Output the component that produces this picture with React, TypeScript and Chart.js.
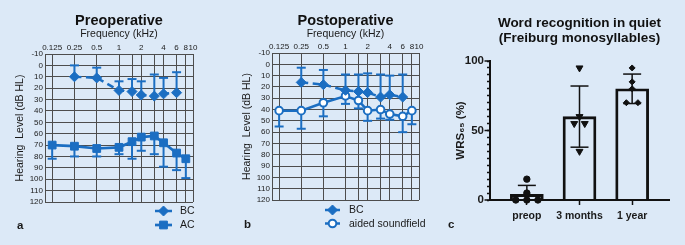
import React, { useEffect, useRef } from 'react';
import { Chart, registerables } from 'chart.js';

Chart.register(...registerables);

const FONT = "'Liberation Sans', Arial, Helvetica, sans-serif";
Chart.defaults.font.family = FONT;
Chart.defaults.color = '#1a1a1a';

const BLUE = '#1b6ec2';
const BG = '#dce9f7';
const GRID = '#4d4d4d';
const INK = '#111111';

// ---------- Audiogram data ----------
const frequencies = [0.125, 0.25, 0.5, 1, 1.5, 2, 3, 4, 6, 8];
const freqGridLines = [0.125, 0.25, 0.5, 1, 1.5, 2, 3, 4, 6, 8, 10];
const freqTickLabels = ['0.125', '0.25', '0.5', '1', '', '2', '', '4', '6', '8', '10'];

const preopBC = [null, 10, 11, 22, 23, 26, 27, 25, 24, null];
const preopBCErrEnd = [null, 0, 2, 14, 12, 14, 8, 11, 6, null];
const preopAC = [70, 71, 73, 72, 67, 63, 62, 68, 77, 82];
const preopACErrEnd = [82, 80, 80, 78, 82, 75, 78, 89, 92, 99];

const postopBC = [null, 16, 18, 23, 24, 25, 29, 27, 29, null];
const postopBCErrEnd = [null, 3, 5, 9, 9, 8, 9, 10, 9, null];
const postopAided = [41, 41, 34, 28, 32, 41, 40, 44, 46, 41];
const postopAidedErrEnd = [55, 57, 46, 35, 39, 50, 48, 49, 60, 53];

// ---------- Word recognition data ----------
const wrsCategories = ['preop', '3 months', '1 year'];
const wrsMean = [4, 60, 80];
const wrsSD = [6.5, 22, 10.6];
const wrsMajorTicks = [0, 50, 100];
const preopScores = [0, 0, 0, 5, 15];
const preopDodge = [-0.21, 0, 0.21, 0, 0];
const months3Scores = [95, 60, 55, 55, 35];
const months3Dodge = [0, 0, -0.1, 0.1, 0];
const year1Scores = [95, 85, 80, 70, 70];
const year1Dodge = [0, 0, 0, -0.11, 0.11];

// ---------- helpers ----------
const toPoints = (vals: (number | null)[]) => frequencies.map((f, i) => ({ x: f, y: vals[i] }));
const toEnds = (vals: (number | null)[]) => vals.map((v) => (v == null ? [] : [v]));

function drawMarker(ctx: any, style: string, x: number, y: number, r: number, fill: string, stroke: string, lw: number) {
  ctx.save();
  ctx.beginPath();
  if (style === 'rectRot') {
    ctx.moveTo(x - r, y);
    ctx.lineTo(x, y - r);
    ctx.lineTo(x + r, y);
    ctx.lineTo(x, y + r);
    ctx.closePath();
  } else if (style === 'rect') {
    const s = r * Math.SQRT1_2;
    ctx.rect(x - s, y - s, 2 * s, 2 * s);
  } else {
    ctx.arc(x, y, r, 0, Math.PI * 2);
  }
  ctx.fillStyle = fill;
  ctx.fill();
  if (lw) {
    ctx.strokeStyle = stroke;
    ctx.lineWidth = lw;
    ctx.stroke();
  }
  ctx.restore();
}

const errorBarPlugin = {
  id: 'errorBars',
  beforeDatasetsDraw(chart: any) {
    const ctx = chart.ctx;
    chart.data.datasets.forEach((ds: any, di: number) => {
      if (!ds.errorEnds) return;
      const meta = chart.getDatasetMeta(di);
      const ys = chart.scales[meta.yAxisID];
      const st = ds.errorStyle;
      const lo = Math.min(ys.min, ys.max);
      const hi = Math.max(ys.min, ys.max);
      ctx.save();
      ctx.strokeStyle = st.color;
      ctx.lineWidth = st.width;
      ctx.setLineDash([]);
      meta.data.forEach((el: any, i: number) => {
        const ends = ds.errorEnds[i] || [];
        ends.forEach((v: number) => {
          const c = Math.max(lo, Math.min(hi, v));
          const y2 = ys.getPixelForValue(c);
          ctx.beginPath();
          ctx.moveTo(el.x, el.y);
          ctx.lineTo(el.x, y2);
          ctx.stroke();
          if (c === v) {
            ctx.beginPath();
            ctx.moveTo(el.x - st.cap / 2, y2);
            ctx.lineTo(el.x + st.cap / 2, y2);
            ctx.stroke();
          }
        });
      });
      ctx.restore();
    });
  },
};

function makeLegendPlugin(x: number, y: number, rowGap: number, lineLen: number, textGap: number) {
  return {
    id: 'markerLegend',
    afterDraw(chart: any) {
      const ctx = chart.ctx;
      chart.data.datasets.forEach((ds: any, i: number) => {
        const yy = y + i * rowGap;
        ctx.save();
        ctx.strokeStyle = ds.borderColor;
        ctx.lineWidth = ds.borderWidth;
        ctx.setLineDash([]);
        ctx.beginPath();
        ctx.moveTo(x, yy);
        ctx.lineTo(x + lineLen, yy);
        ctx.stroke();
        drawMarker(ctx, ds.pointStyle, x + lineLen / 2, yy, ds.pointRadius, ds.pointBackgroundColor, ds.pointBorderColor, ds.pointBorderWidth);
        ctx.fillStyle = '#1a1a1a';
        ctx.font = `10.5px ${FONT}`;
        ctx.textAlign = 'left';
        ctx.textBaseline = 'middle';
        ctx.fillText(ds.label, x + lineLen + textGap, yy + 0.5);
        ctx.restore();
      });
    },
  };
}

function makePanelLabel(text: string, x: number, y: number) {
  return {
    id: 'panelLabel',
    afterDraw(chart: any) {
      const ctx = chart.ctx;
      ctx.save();
      ctx.fillStyle = '#1a1a1a';
      ctx.font = `bold 11.5px ${FONT}`;
      ctx.textAlign = 'left';
      ctx.textBaseline = 'middle';
      ctx.fillText(text, x, y);
      ctx.restore();
    },
  };
}

function makeMajorTicks(values: number[], len: number) {
  return {
    id: 'majorTicks',
    afterDraw(chart: any) {
      const s = chart.scales.y;
      const ctx = chart.ctx;
      const x0 = chart.chartArea.left;
      ctx.save();
      ctx.strokeStyle = INK;
      ctx.lineWidth = 1.5;
      values.forEach((v) => {
        const y = s.getPixelForValue(v);
        ctx.beginPath();
        ctx.moveTo(x0 - len, y);
        ctx.lineTo(x0, y);
        ctx.stroke();
      });
      ctx.restore();
    },
  };
}

const errStyleBlue = { color: BLUE, width: 2, cap: 9 };

function bcDataset(vals: (number | null)[], ends: (number | null)[]) {
  return {
    label: 'BC',
    data: toPoints(vals),
    borderColor: BLUE,
    backgroundColor: BLUE,
    borderWidth: 2.5,
    borderDash: [7, 4.5],
    tension: 0,
    pointStyle: 'rectRot',
    pointRadius: 5,
    pointBorderWidth: 1,
    pointBackgroundColor: BLUE,
    pointBorderColor: BLUE,
    clip: false,
    errorEnds: toEnds(ends),
    errorStyle: errStyleBlue,
  };
}

function audiogramConfig(p: any) {
  return {
    type: 'line',
    data: { datasets: p.datasets },
    options: {
      responsive: false,
      animation: false,
      events: [],
      layout: { padding: { left: 0, top: 0, right: p.padRight, bottom: p.padBottom } },
      plugins: {
        legend: { display: false },
        tooltip: { enabled: false },
        title: {
          display: true,
          text: p.title,
          fullSize: false,
          font: { size: 14.5, weight: 'bold', lineHeight: '13px' },
          padding: { top: 14.5, bottom: 0 },
          color: '#111',
        },
        subtitle: {
          display: true,
          text: 'Frequency (kHz)',
          fullSize: false,
          font: { size: 10.5, lineHeight: '13px' },
          padding: { top: 0, bottom: 0 },
          color: '#1a1a1a',
        },
      },
      scales: {
        x: {
          type: 'logarithmic',
          position: 'top',
          min: 0.1,
          max: 10,
          afterBuildTicks: (s: any) => {
            s.ticks = freqGridLines.map((v) => ({ value: v }));
          },
          afterFit: (s: any) => {
            s.height = p.xHeight;
          },
          ticks: {
            autoSkip: false,
            maxRotation: 0,
            minRotation: 0,
            padding: 1.5,
            font: { size: 8 },
            callback: (_v: any, i: number) => freqTickLabels[i],
          },
          grid: { color: GRID, lineWidth: 1, drawTicks: false },
          border: { color: GRID, width: 1 },
        },
        y: {
          type: 'linear',
          reverse: true,
          min: -10,
          max: 120,
          afterFit: (s: any) => {
            s.width = p.yWidth;
          },
          ticks: { stepSize: 10, autoSkip: false, padding: 2, font: { size: 8 } },
          grid: { color: GRID, lineWidth: 1, drawTicks: false },
          border: { color: GRID, width: 1 },
          title: {
            display: true,
            text: 'Hearing  Level (dB HL)',
            font: { size: 10.5 },
            padding: { top: p.yTitlePad, bottom: 0 },
          },
        },
      },
    },
    plugins: [errorBarPlugin, p.legend, p.label],
  };
}

function makePreop() {
  return audiogramConfig({
    title: 'Preoperative',
    xHeight: 13.5,
    yWidth: 45,
    padRight: 37,
    padBottom: 43,
    yTitlePad: 13.7,
    datasets: [
      bcDataset(preopBC, preopBCErrEnd),
      {
        label: 'AC',
        data: toPoints(preopAC),
        borderColor: BLUE,
        backgroundColor: BLUE,
        borderWidth: 2.7,
        tension: 0,
        pointStyle: 'rect',
        pointRadius: 5.5,
        pointBorderWidth: 1,
        pointBackgroundColor: BLUE,
        pointBorderColor: BLUE,
        clip: false,
        errorEnds: toEnds(preopACErrEnd),
        errorStyle: errStyleBlue,
      },
    ],
    legend: makeLegendPlugin(155, 211, 14, 17, 8),
    label: makePanelLabel('a', 17, 225.5),
  });
}

function makePostop() {
  return audiogramConfig({
    title: 'Postoperative',
    xHeight: 12.5,
    yWidth: 42,
    padRight: 21,
    padBottom: 45,
    yTitlePad: 11,
    datasets: [
      bcDataset(postopBC, postopBCErrEnd),
      {
        label: 'aided soundfield',
        data: toPoints(postopAided),
        borderColor: BLUE,
        backgroundColor: '#ffffff',
        borderWidth: 2.5,
        tension: 0,
        pointStyle: 'circle',
        pointRadius: 3.8,
        pointBorderWidth: 2,
        pointBackgroundColor: '#ffffff',
        pointBorderColor: BLUE,
        clip: false,
        errorEnds: toEnds(postopAidedErrEnd),
        errorStyle: errStyleBlue,
      },
    ],
    legend: makeLegendPlugin(95, 210, 13.5, 15, 9),
    label: makePanelLabel('b', 14, 225),
  });
}

function makeWrs() {
  return {
    type: 'bar',
    data: {
      datasets: [
        {
          type: 'bar',
          data: wrsMean.map((m, i) => ({ x: i, y: m })),
          backgroundColor: 'rgba(0,0,0,0)',
          borderColor: INK,
          borderWidth: 2.2,
          barThickness: 33,
          order: 1,
          errorEnds: wrsMean.map((m, i) => [m - wrsSD[i], m + wrsSD[i]]),
          errorStyle: { color: INK, width: 1.5, cap: 18 },
        },
        {
          type: 'scatter',
          data: preopScores.map((s, i) => ({ x: 0 + preopDodge[i], y: s })),
          pointStyle: 'circle',
          pointRadius: 3.2,
          backgroundColor: INK,
          borderColor: INK,
          order: 0,
          clip: false,
        },
        {
          type: 'scatter',
          data: months3Scores.map((s, i) => ({ x: 1 + months3Dodge[i], y: s })),
          pointStyle: 'triangle',
          rotation: 180,
          pointRadius: 4,
          backgroundColor: INK,
          borderColor: INK,
          order: 0,
          clip: false,
        },
        {
          type: 'scatter',
          data: year1Scores.map((s, i) => ({ x: 2 + year1Dodge[i], y: s })),
          pointStyle: 'rectRot',
          pointRadius: 3,
          backgroundColor: INK,
          borderColor: INK,
          order: 0,
          clip: false,
        },
      ],
    },
    options: {
      responsive: false,
      animation: false,
      events: [],
      layout: { padding: { left: 0, top: 0, right: 16, bottom: 0 } },
      plugins: {
        legend: { display: false },
        tooltip: { enabled: false },
        title: {
          display: true,
          text: ['Word recognition in quiet', '(Freiburg monosyllables)'],
          fullSize: false,
          font: { size: 13.5, weight: 'bold', lineHeight: '15px' },
          padding: { top: 15.5, bottom: 15.5 },
          color: '#111',
        },
      },
      scales: {
        x: {
          type: 'linear',
          min: -0.7,
          max: 2.7,
          offset: false,
          afterBuildTicks: (s: any) => {
            s.ticks = wrsCategories.map((_c, i) => ({ value: i }));
          },
          afterFit: (s: any) => {
            s.height = 45;
          },
          ticks: {
            autoSkip: false,
            maxRotation: 0,
            minRotation: 0,
            padding: 4.5,
            font: { size: 10.5, weight: 'bold' },
            callback: (_v: any, i: number) => wrsCategories[i],
          },
          grid: { display: true, offset: false, drawOnChartArea: false, drawTicks: true, tickLength: 5, tickColor: INK, tickWidth: 1.5 },
          border: { display: true, color: INK, width: 2 },
        },
        y: {
          min: 0,
          max: 100,
          afterFit: (s: any) => {
            s.width = 50;
          },
          ticks: {
            stepSize: 5,
            autoSkip: false,
            padding: 3,
            font: { size: 11.5, weight: 'bold' },
            callback: (v: any) => (wrsMajorTicks.includes(v) ? String(v) : ''),
          },
          grid: { display: true, drawOnChartArea: false, drawTicks: true, tickLength: 3, tickColor: INK, tickWidth: 1.5 },
          border: { display: true, color: INK, width: 2 },
          title: {
            display: true,
            text: 'WRS₆₅ (%)',
            font: { size: 11.5, weight: 'bold' },
            padding: { top: 14, bottom: 0 },
          },
        },
      },
    },
    plugins: [errorBarPlugin, makeMajorTicks(wrsMajorTicks, 5.5), makePanelLabel('c', 8, 225)],
  };
}

function Panel({ left, width, height, make }: { left: number; width: number; height: number; make: () => any }) {
  const ref = useRef<HTMLCanvasElement>(null);
  useEffect(() => {
    const chart = new Chart(ref.current as HTMLCanvasElement, make());
    return () => chart.destroy();
  }, [make]);
  return (
    <canvas
      ref={ref}
      width={width}
      height={height}
      style={{ position: 'absolute', left, top: 0, width, height, display: 'block' }}
    />
  );
}

export default function App() {
  return (
    <div style={{ position: 'fixed', left: 0, top: 0, width: 685, height: 245, background: BG, overflow: 'hidden' }}>
      <Panel left={0} width={230} height={245} make={makePreop} />
      <Panel left={230} width={210} height={245} make={makePostop} />
      <Panel left={440} width={245} height={245} make={makeWrs} />
    </div>
  );
}
